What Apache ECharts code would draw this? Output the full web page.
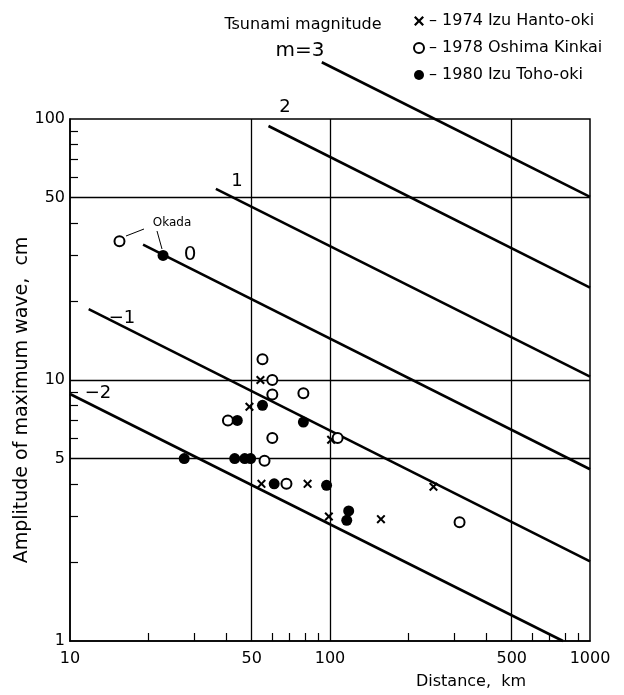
<!DOCTYPE html>
<html><head><meta charset="utf-8">
<script src="https://cdn.jsdelivr.net/npm/echarts@6/dist/echarts.min.js"></script>
<style>html,body{margin:0;padding:0;background:#fff}#c{width:624px;height:695px}</style>
</head><body><div id="c"></div>
<script>
// Axis ticks / labels
const xTickLabels = [10, 50, 100, 500, 1000];
const yTickLabels = [1, 5, 10, 50, 100];
const xMinorTicks = [20, 30, 40, 60, 70, 80, 90, 200, 300, 400, 600, 700, 800, 900];
const yMinorTicks = [2, 3, 4, 6, 7, 8, 9, 20, 30, 40, 60, 70, 80, 90];
const xGridLines = [50, 100, 500];
const yGridLines = [5, 10, 50];

// Tsunami magnitude lines (start point, end point)
const magnitudes = ['-2', '-1', '0', '1', '2', 'm=3'];
const magLineStart = [[10, 8.84], [11.8, 18.7], [19.1, 33], [36.4, 54], [58, 94], [93, 165]];
const magLineEnd = [[787, 1], [1000, 2.02], [1000, 4.55], [1000, 10.3], [1000, 22.6], [1000, 50.3]];

// Observations [distance km, amplitude cm]
const izuHanto1974 = [[54, 10], [49, 7.9], [54.5, 4.0], [82, 4.0], [101, 5.9], [250, 3.9], [99, 3.0], [157, 2.93]];
const oshima1978 = [[15.5, 34], [55, 12], [60, 10], [60, 8.8], [79, 8.9], [40.5, 7.0], [60, 6.0], [56, 4.9], [68, 4.0], [107, 6.0], [315, 2.85]];
const izuToho1980 = [[22.8, 30], [55, 8.0], [44, 7.0], [79, 6.9], [27.5, 5], [43, 5], [47, 5], [49.5, 5], [61, 4.0], [97, 3.95], [118, 3.15], [116, 2.9]];

const seriesNames = ['1974 Izu Hanto-oki', '1978 Oshima Kinkai', '1980 Izu Toho-oki'];

const FONT = 'DejaVu Sans';
const xPath = 'path://M0,1.6 L1.6,0 L5,3.4 L8.4,0 L10,1.6 L6.6,5 L10,8.4 L8.4,10 L5,6.6 L1.6,10 L0,8.4 L3.4,5 Z';

const chart = echarts.init(document.getElementById('c'), null, {renderer: 'canvas'});

const lineSeries = magnitudes.map((m, i) => ({
  type: 'line', name: 'm' + m, data: [magLineStart[i], magLineEnd[i]],
  symbol: 'none', clip: false, silent: true,
  lineStyle: {color: '#000', width: 2.6}, z: 3
}));

const gridMark = {
  silent: true, symbol: 'none', label: {show: false},
  lineStyle: {color: '#000', width: 1.3, type: 'solid', opacity: 1},
  data: xGridLines.map(v => ({xAxis: v})).concat(yGridLines.map(v => ({yAxis: v})))
};

const option = {
  backgroundColor: '#fff',
  animation: false,
  textStyle: {fontFamily: FONT, color: '#000'},
  grid: {left: 70, right: 34, top: 119, bottom: 54, containLabel: false, outerBoundsMode: 'none',
         show: true, borderColor: '#000', borderWidth: 1.5, backgroundColor: 'transparent'},
  legend: {
    orient: 'vertical', left: 408, top: 8, itemGap: 11,
    itemWidth: 10, itemHeight: 10,
    data: seriesNames,
    formatter: n => '\u2013 ' + n,
    textStyle: {fontFamily: FONT, fontSize: 16, color: '#000'}
  },
  xAxis: {
    type: 'log', logBase: 10, min: 10, max: 1000,
    axisLine: {show: true, lineStyle: {color: '#000', width: 1.5}},
    axisTick: {show: true, inside: true, length: 8, customValues: xMinorTicks, lineStyle: {color: '#000', width: 1.2}},
    axisLabel: {customValues: xTickLabels, color: '#000', fontSize: 16, fontFamily: FONT, margin: 10, formatter: v => String(Math.round(v))},
    splitLine: {show: false}, minorTick: {show: false}
  },
  yAxis: {
    type: 'log', logBase: 10, min: 1, max: 100,
    axisLine: {show: true, lineStyle: {color: '#000', width: 1.5}},
    axisTick: {show: true, inside: true, length: 8, customValues: yMinorTicks, lineStyle: {color: '#000', width: 1.2}},
    axisLabel: {customValues: yTickLabels, color: '#000', fontSize: 16, fontFamily: FONT, margin: 5, formatter: v => String(Math.round(v))},
    splitLine: {show: false}, minorTick: {show: false},
    name: 'Amplitude of maximum wave,  cm', nameLocation: 'middle', nameGap: 38, nameRotate: 90, nameMoveOverlap: false,
    nameTextStyle: {fontFamily: FONT, fontSize: 19, color: '#000', padding: [0, 40, 0, 0]}
  },
  series: lineSeries.concat([
    {
      type: 'scatter', name: seriesNames[0], data: izuHanto1974,
      symbol: xPath, symbolSize: 9, itemStyle: {color: '#000', opacity: 1}, z: 5,
      markLine: gridMark
    },
    {
      type: 'scatter', name: seriesNames[1], data: oshima1978,
      symbol: 'emptyCircle', symbolSize: 10, itemStyle: {color: '#000', borderColor: '#000', borderWidth: 1.8, opacity: 1}, z: 5
    },
    {
      type: 'scatter', name: seriesNames[2], data: izuToho1980,
      symbol: 'circle', symbolSize: 11, itemStyle: {color: '#000', opacity: 1}, z: 5
    }
  ]),
  graphic: [
    {type: 'text', x: 303, y: 25, style: {text: 'Tsunami magnitude', font: '16px "DejaVu Sans"', fill: '#000', align: 'center', verticalAlign: 'middle'}},
    {type: 'text', x: 300, y: 51, style: {text: 'm=3', font: '20px "DejaVu Sans"', fill: '#000', align: 'center', verticalAlign: 'middle'}},
    {type: 'text', x: 285, y: 107, style: {text: '2', font: '18px "DejaVu Sans"', fill: '#000', align: 'center', verticalAlign: 'middle'}},
    {type: 'text', x: 237, y: 181, style: {text: '1', font: '18px "DejaVu Sans"', fill: '#000', align: 'center', verticalAlign: 'middle'}},
    {type: 'text', x: 190, y: 255, style: {text: '0', font: '20px "DejaVu Sans"', fill: '#000', align: 'center', verticalAlign: 'middle'}},
    {type: 'text', x: 122, y: 318, style: {text: '\u2212' + '1', font: '18px "DejaVu Sans"', fill: '#000', align: 'center', verticalAlign: 'middle'}},
    {type: 'text', x: 98, y: 393, style: {text: '\u2212' + '2', font: '18px "DejaVu Sans"', fill: '#000', align: 'center', verticalAlign: 'middle'}},
    {type: 'text', x: 172, y: 223, style: {text: 'Okada', font: '12px "DejaVu Sans"', fill: '#000', align: 'center', verticalAlign: 'middle'}},
    {type: 'line', shape: {x1: 126, y1: 236, x2: 144, y2: 229}, style: {stroke: '#000', lineWidth: 1}},
    {type: 'line', shape: {x1: 157, y1: 231, x2: 162, y2: 249}, style: {stroke: '#000', lineWidth: 1}},
    {type: 'text', x: 471, y: 682, style: {text: 'Distance,  km', font: '16px "DejaVu Sans"', fill: '#000', align: 'center', verticalAlign: 'middle'}}
  ]
};
chart.setOption(option);
</script></body></html>
